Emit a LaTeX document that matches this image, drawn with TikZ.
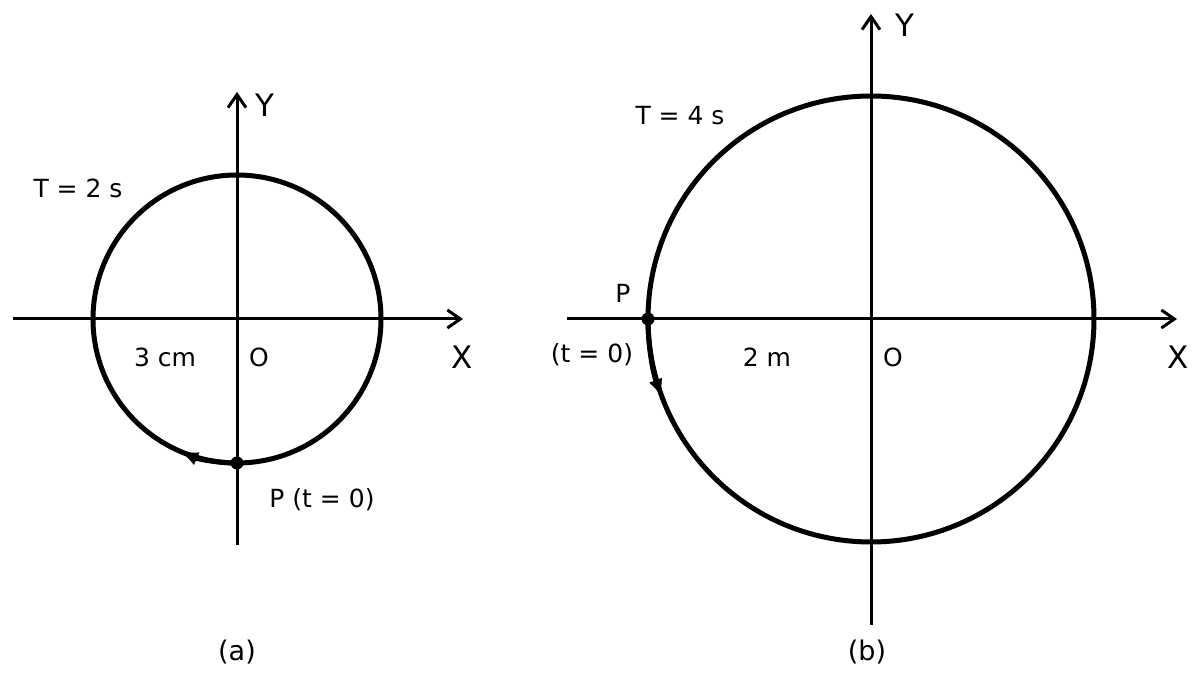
\documentclass[tikz,border=0pt]{standalone}
\usepackage{fontspec}
\setmainfont{DejaVu Sans}
\usetikzlibrary{arrows.meta}
\begin{document}
\begin{tikzpicture}[x=1pt,y=1pt,
  axis/.style={line width=3pt,-{Straight Barb[length=13pt,width=18pt,line width=3pt]}},
  orbit/.style={line width=5pt},
  dirarrow/.style={line width=5pt,-{Latex[length=20pt,width=14pt]}},
  lbl/.style={inner sep=0pt,font=\fontsize{25}{29}\selectfont},
  axlbl/.style={inner sep=0pt,font=\fontsize{31}{35}\selectfont},
  figcap/.style={inner sep=0pt,font=\fontsize{27}{31}\selectfont},
  pdot/.style={circle,fill=black,inner sep=0pt,minimum size=13pt}]
\useasboundingbox (0,0) rectangle (1200,677);
% ---------- (a) ----------
\coordinate (Oa) at (237,358);
\coordinate (xa0) at (13,358);
\coordinate (xa1) at (463,358);
\coordinate (ya0) at (237,132);
\coordinate (ya1) at (237,585);
\draw[orbit] (Oa) circle[radius=144];
\draw[axis] (xa0) -- (xa1);
\draw[axis] (ya0) -- (ya1);
\draw[dirarrow] ([shift={(270:144)}]Oa) arc[start angle=270,end angle=246,radius=144];
\node[pdot] (Pa) at ([shift={(270:144)}]Oa) {};
\node[axlbl] (Ya) at (265,572) {Y};
\node[axlbl] (Xa) at (462,320) {X};
\node[lbl] (Ta) at (78,489) {T = 2 s};
\node[lbl] (ra) at (165,320) {3 cm};
\node[lbl] (oa) at (259,320) {O};
\node[lbl] (pa) at (322,177) {P (t = 0)};
\node[figcap] (capa) at (237,25) {(a)};
% ---------- (b) ----------
\coordinate (Ob) at (871,358);
\coordinate (xb0) at (567,358);
\coordinate (xb1) at (1177,358);
\coordinate (yb0) at (871,52);
\coordinate (yb1) at (871,663);
\draw[orbit] (Ob) circle[radius=223];
\draw[axis] (xb0) -- (xb1);
\draw[axis] (yb0) -- (yb1);
\draw[dirarrow] ([shift={(180:223)}]Ob) arc[start angle=180,end angle=201,radius=223];
\node[pdot] (Pb) at ([shift={(180:223)}]Ob) {};
\node[axlbl] (Yb) at (905,652) {Y};
\node[axlbl] (Xb) at (1178,320) {X};
\node[lbl] (Tb) at (680,561) {T = 4 s};
\node[lbl] (pb) at (623,384) {P};
\node[lbl] (tb) at (592,322) {(t = 0)};
\node[lbl] (rb) at (767,320) {2 m};
\node[lbl] (ob) at (893,320) {O};
\node[figcap] (capb) at (867,25) {(b)};
\end{tikzpicture}
\end{document}
